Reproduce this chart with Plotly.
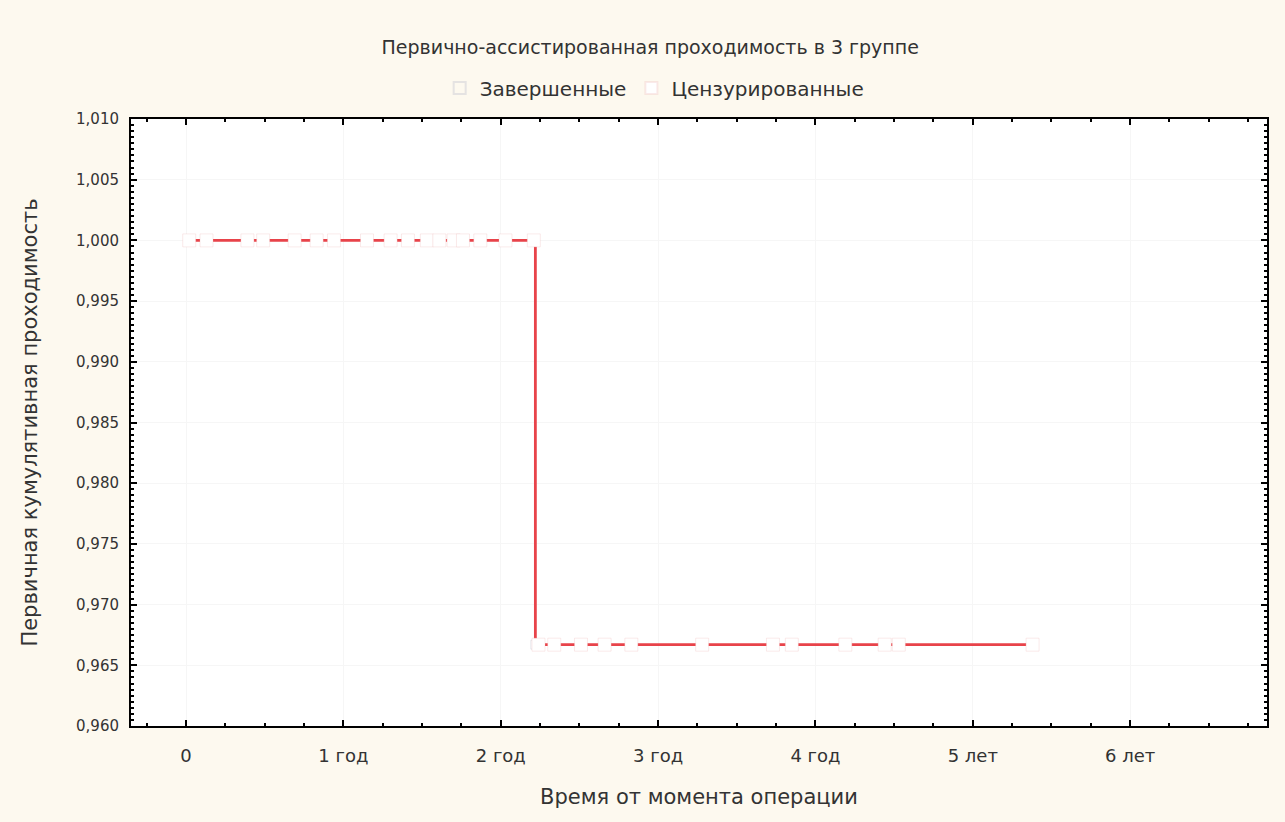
import plotly.graph_objects as go

# ---- data ----
title_text = "Первично-ассистированная проходимость в 3 группе"
x_title = "Время от момента операции"
y_title = "Первичная кумулятивная проходимость"

step_times = [0.0, 2.22, 5.38]
step_surv = [1.0, 0.9667, 0.9667]

event_times = [2.22]
event_surv = [0.9667]

cens_times_upper = [0.02, 0.13, 0.39, 0.49, 0.69, 0.83, 0.94, 1.15, 1.30, 1.41,
                    1.53, 1.61, 1.70, 1.76, 1.87, 2.03, 2.21]
cens_surv_upper = [1.0] * len(cens_times_upper)
cens_times_lower = [2.24, 2.34, 2.51, 2.66, 2.83, 3.28, 3.73, 3.85, 4.19, 4.44,
                    4.53, 5.38]
cens_surv_lower = [0.9667] * len(cens_times_lower)

x_tickvals = [0, 1, 2, 3, 4, 5, 6]
x_ticktext = ["0", "1 год", "2 год", "3 год", "4 год", "5 лет", "6 лет"]

FONT = "DejaVu Sans"
TXT = "#333333"
RED = "#e8434a"

fig = go.Figure()

fig.add_trace(go.Scatter(
    x=step_times, y=step_surv, mode="lines", line_shape="hv",
    line=dict(color=RED, width=2.8), showlegend=False, hoverinfo="skip"))

fig.add_trace(go.Scatter(
    x=event_times, y=event_surv, mode="markers", name="Завершенные",
    marker=dict(symbol="square", size=9, color="rgba(255,255,255,0)",
                line=dict(color="rgba(200,200,210,0.45)", width=1))))

fig.add_trace(go.Scatter(
    x=cens_times_upper + cens_times_lower,
    y=cens_surv_upper + cens_surv_lower,
    mode="markers", name="Цензурированные",
    marker=dict(symbol="square", size=13, color="white",
                line=dict(color="rgba(240,185,185,0.3)", width=1))))

axis_common = dict(
    showline=True, linecolor="black", linewidth=2, mirror="allticks",
    ticks="inside", ticklen=6, tickwidth=2, tickcolor="black",
    showgrid=True, gridcolor="#f6f6f6", gridwidth=1, zeroline=False,
)

fig.update_layout(
    width=1285, height=822,
    paper_bgcolor="#fdf9ef", plot_bgcolor="white",
    separators=", ",
    margin=dict(l=131, r=18, t=119, b=96),
    title=dict(text=title_text, x=0.506, xanchor="center", xref="container",
               y=1 - 47 / 822, yanchor="middle", yref="container",
               font=dict(family=FONT, size=19, color=TXT)),
    legend=dict(orientation="h", x=0.461, xanchor="center", y=1.051,
                yanchor="middle", bgcolor="rgba(0,0,0,0)",
                font=dict(family=FONT, size=20, color=TXT),
                itemsizing="constant"),
    xaxis=dict(range=[-0.35, 6.87], tickvals=x_tickvals, ticktext=x_ticktext,
               tickfont=dict(family=FONT, size=18, color=TXT),
               ticklabelstandoff=12,
               minor=dict(dtick=0.25, tick0=0, ticks="inside", ticklen=3,
                          tickwidth=1.5, tickcolor="black", showgrid=False),
               title=dict(text=x_title, standoff=25,
                          font=dict(family=FONT, size=21, color=TXT)),
               **axis_common),
    yaxis=dict(range=[0.960, 1.010], tick0=0.96, dtick=0.005, tickformat=".3f",
               tickfont=dict(family=FONT, size=15, color=TXT),
               ticklabelstandoff=7,
               minor=dict(dtick=0.0005, tick0=0.96, ticks="inside", ticklen=3,
                          tickwidth=1.5, tickcolor="black", showgrid=False),
               title=dict(text=y_title, standoff=33,
                          font=dict(family=FONT, size=21, color=TXT)),
               **axis_common),
)

fig.write_html("out.html")
